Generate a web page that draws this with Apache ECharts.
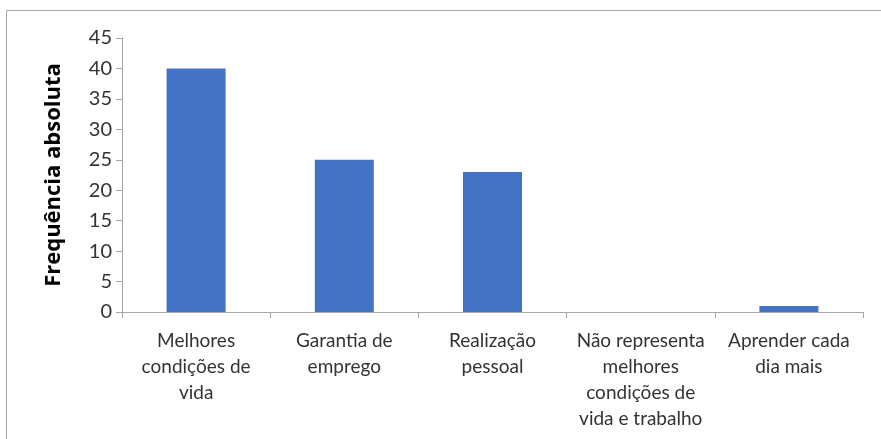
<!DOCTYPE html>
<html>
<head>
<meta charset="utf-8">
<script src="https://cdn.jsdelivr.net/npm/echarts@6/dist/echarts.min.js"></script>
<style>
  html, body { margin: 0; padding: 0; background: #fff; }
  #main { width: 881px; height: 439px; }
</style>
</head>
<body>
<div id="main"></div>
<script>
// dados do gráfico
var categorias = [
  'Melhores\ncondições de\nvida',
  'Garantia de\nemprego',
  'Realização\npessoal',
  'Não representa\nmelhores\ncondições de\nvida e trabalho',
  'Aprender cada\ndia mais'
];
var frequencias = [40, 25, 23, 0, 1];
var tituloY = 'Frequência absoluta';

var myChart = echarts.init(document.getElementById('main'));

var option = {
  backgroundColor: '#fff',
  animation: false,
  graphic: [{
    type: 'rect',
    shape: { x: 6.5, y: 10.5, width: 900, height: 500 },
    style: { fill: 'none', stroke: '#a6a6a6', lineWidth: 1 },
    silent: true
  }],
  grid: { left: 122, right: 18, top: 38, bottom: 127 },
  xAxis: {
    type: 'category',
    data: categorias,
    axisLine: { lineStyle: { color: '#a6a6a6', width: 1 } },
    axisTick: { show: true, length: 6, lineStyle: { color: '#a6a6a6' } },
    axisLabel: {
      interval: 0,
      color: '#333',
      fontFamily: 'Lato, "Open Sans", sans-serif',
      fontSize: 19,
      lineHeight: 26,
      margin: 16
    }
  },
  yAxis: {
    type: 'value',
    min: 0,
    max: 45,
    interval: 5,
    name: tituloY,
    nameLocation: 'middle',
    nameGap: 57,
    nameRotate: 90,
    nameTextStyle: {
      color: '#000',
      fontFamily: '"Open Sans", Lato, sans-serif',
      fontWeight: 'bold',
      fontSize: 22
    },
    axisLine: { show: true, lineStyle: { color: '#a6a6a6', width: 1 } },
    axisTick: { show: true, length: 6, lineStyle: { color: '#a6a6a6' } },
    splitLine: { show: false },
    axisLabel: {
      color: '#333',
      fontFamily: 'Lato, "Open Sans", sans-serif',
      fontSize: 20,
      margin: 10
    }
  },
  series: [{
    type: 'bar',
    data: frequencias,
    barWidth: 59,
    itemStyle: { color: '#4472c4' }
  }]
};

myChart.setOption(option);
</script>
</body>
</html>
